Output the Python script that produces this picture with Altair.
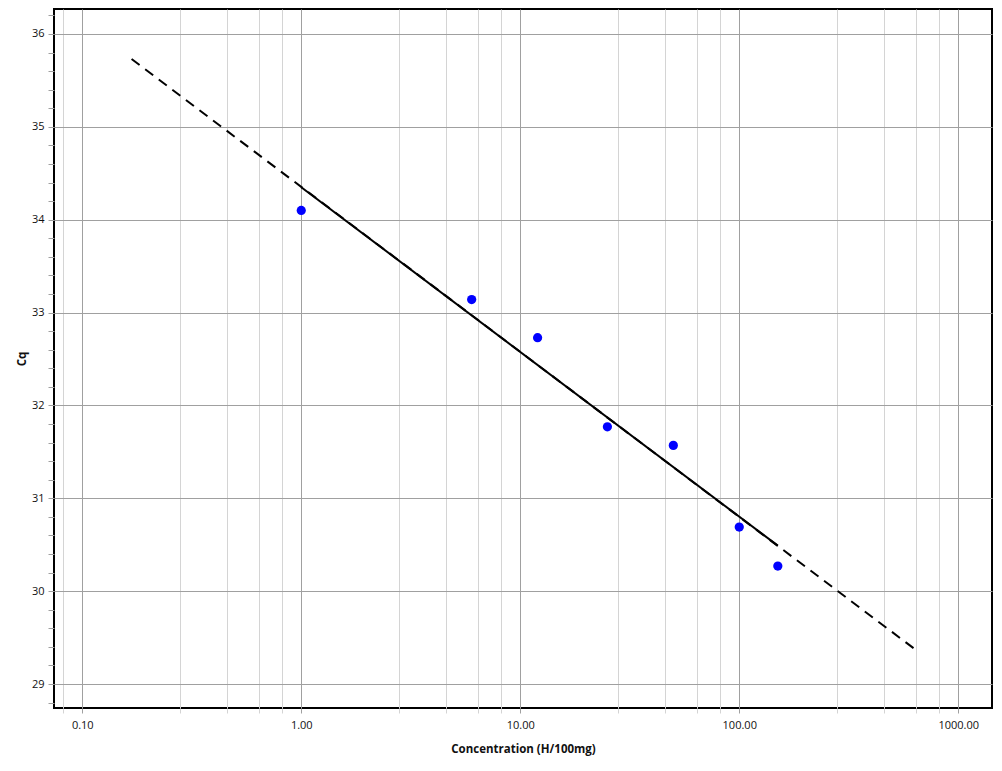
import pandas as pd
import altair as alt

# -----------------------------
# DATOS
# -----------------------------

# Puntos estándar: concentración vs Cq
conc_pts = [1.0, 6.0, 12.0, 25.0, 50.0, 100.0, 150.0]
cq_pts = [34.10, 33.14, 32.73, 31.77, 31.57, 30.69, 30.27]

# Recta de regresión: tramo extrapolado (discontinuo) y tramo ajustado (continuo)
conc_dash = [0.168, 630.0]
cq_dash = [35.73, 29.38]
conc_solid = [1.0, 150.0]
cq_solid = [34.35, 30.49]

# Marcas de los ejes
x_major = [0.1, 1.0, 10.0, 100.0, 1000.0]
x_minor = [0.082, 0.28, 0.46, 0.64, 0.82, 2.8, 4.6, 6.4, 8.2,
           28.0, 46.0, 64.0, 82.0, 280.0, 460.0, 640.0, 820.0]
y_ticks = [28.8, 29.0, 29.2, 29.4, 29.6, 29.8, 30.0, 30.2, 30.4, 30.6, 30.8,
           31.0, 31.2, 31.4, 31.6, 31.8, 32.0, 32.2, 32.4, 32.6, 32.8,
           33.0, 33.2, 33.4, 33.6, 33.8, 34.0, 34.2, 34.4, 34.6, 34.8,
           35.0, 35.2, 35.4, 35.6, 35.8, 36.0, 36.2]

df_pts = pd.DataFrame({"conc": conc_pts, "cq": cq_pts})
df_dash = pd.DataFrame({"conc": conc_dash, "cq": cq_dash})
df_solid = pd.DataFrame({"conc": conc_solid, "cq": cq_solid})

# -----------------------------
# ESCALAS Y EJES
# -----------------------------

font = "Open Sans"
major_test = "indexof(%s, datum.value) >= 0" % str(x_major)

x_axis = alt.Axis(
    values=sorted(x_major + x_minor),
    labelExpr=f"{major_test} ? format(datum.value, '.2f') : ''",
    gridColor={"condition": {"test": major_test, "value": "#a0a0a0"}, "value": "#d4d4d4"},
    tickColor={"condition": {"test": major_test, "value": "#a0a0a0"}, "value": "#d4d4d4"},
    tickSize=5, labelPadding=6, titlePadding=13,
    labelOverlap=False, labelFlush=False, domain=False,
    labelFont=font, labelFontSize=11, labelColor="#111",
    titleFont=font, titleFontSize=11.5, titleFontWeight="bold", titleColor="#111",
)

y_axis = alt.Axis(
    values=y_ticks,
    labelExpr="datum.value % 1 == 0 ? format(datum.value, 'd') : ''",
    gridColor="#a0a0a0",
    gridOpacity={"condition": {"test": "datum.value % 1 == 0", "value": 1}, "value": 0},
    tickColor="#a0a0a0",
    tickSize=6, labelPadding=4, titlePadding=4,
    labelOverlap=False, labelFlush=False, domain=False,
    labelFont=font, labelFontSize=11, labelColor="#111",
    titleFont=font, titleFontSize=11.5, titleFontWeight="bold", titleColor="#111",
)

x_scale = alt.Scale(type="log", domain=[0.0743, 1426], nice=False)
y_scale = alt.Scale(domain=[28.742, 36.269], nice=False, zero=False)

x_enc = alt.X("conc:Q", scale=x_scale, axis=x_axis, title="Concentration (H/100mg)")
y_enc = alt.Y("cq:Q", scale=y_scale, axis=y_axis, title="Cq")

# -----------------------------
# CAPAS
# -----------------------------

dashed = alt.Chart(df_dash).mark_line(
    color="black", strokeWidth=2, strokeDash=[10, 7]
).encode(x=x_enc, y=y_enc)

solid = alt.Chart(df_solid).mark_line(
    color="black", strokeWidth=2
).encode(x=x_enc, y=y_enc)

points = alt.Chart(df_pts).mark_circle(
    size=85, color="#0000ff", opacity=1
).encode(x=x_enc, y=y_enc)

chart = (dashed + solid + points).properties(
    width=938,
    height=699,
    autosize="none",
    padding={"left": 46, "top": 1, "right": 2, "bottom": 52},
).configure_view(
    stroke="black", strokeWidth=2
)

chart.save("out.html", embed_options={"renderer": "svg", "actions": False})
